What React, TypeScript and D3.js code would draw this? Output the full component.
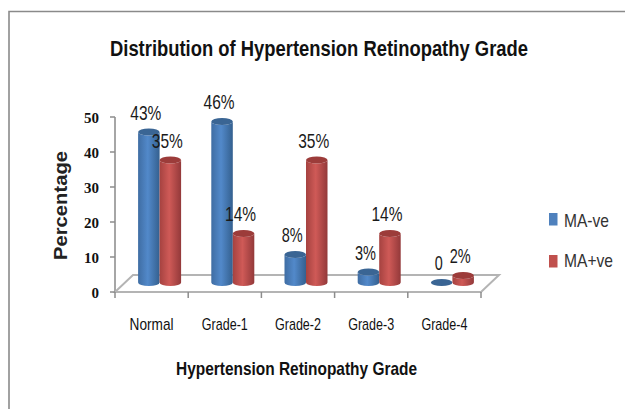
import React from "react";
import * as d3 from "d3";

const categories = ["Normal", "Grade-1", "Grade-2", "Grade-3", "Grade-4"];
const maNeg = [43, 46, 8, 3, 0];
const maPos = [35, 14, 35, 14, 2];
const negLabels = ["43%", "46%", "8%", "3%", "0"];
const posLabels = ["35%", "14%", "35%", "14%", "2%"];
const yTicks = [0, 10, 20, 30, 40, 50];

const FONT = "'Liberation Sans',Arial,sans-serif";

const labelWidth = (s: string) => (s.includes("%") ? 10 * (s.length - 1) + 11 : 8);

export default function App() {
  const x = d3.scaleBand<string>().domain(categories).range([115, 481]);
  const yFront = d3.scaleLinear().domain([0, 50]).range([292, 117]);
  const yBar = d3.scaleLinear().domain([0, 50]).range([282.5, 107.5]);
  const bw = 21.5;
  const rx = bw / 2;
  const ry = 3.6;
  const groupShift = 8;

  const cyl = (cx: number, v: number, fill: string, top: string) => {
    const yt = yBar(v);
    const yb = yBar(0);
    const d = `M${cx - rx},${yt}L${cx - rx},${yb}A${rx},${ry} 0 0 0 ${cx + rx},${yb}L${cx + rx},${yt}A${rx},${ry} 0 0 1 ${cx - rx},${yt}Z`;
    return (
      <g>
        <path d={d} fill={`url(#${fill})`} />
        <ellipse cx={cx} cy={yt} rx={rx} ry={ry} fill={top} />
      </g>
    );
  };

  const floorFront = yFront(0);
  const x0 = x.range()[0];
  const x1 = x.range()[1];
  const dx = 18;
  const dy = 17;

  return (
    <svg width={625} height={409} style={{ position: "absolute", left: 0, top: 0, background: "#fff" }} fontFamily={FONT}>
      <defs>
        <linearGradient id="blueG" x1="0" x2="1" y1="0" y2="0">
          <stop offset="0" stopColor="#3f6da3" />
          <stop offset="0.45" stopColor="#5289ca" />
          <stop offset="1" stopColor="#34608f" />
        </linearGradient>
        <linearGradient id="redG" x1="0" x2="1" y1="0" y2="0">
          <stop offset="0" stopColor="#a54240" />
          <stop offset="0.45" stopColor="#cf5a57" />
          <stop offset="1" stopColor="#93393a" />
        </linearGradient>
      </defs>

      <path d="M9,409V11.5H625" fill="none" stroke="#8a8a8a" strokeWidth={1.6} />

      <text x={110} y={56} fontSize={22.5} fontWeight="bold" fill="#111" textLength={418} lengthAdjust="spacingAndGlyphs">
        Distribution of Hypertension Retinopathy Grade
      </text>

      <path d={`M${x0},${yFront(50)}V${floorFront}`} stroke="#a6a6a6" strokeWidth={2} fill="none" />
      <path
        d={`M${x0},${floorFront}H${x1}L${x1 + dx},${floorFront - dy}H${x0 + dx}Z`}
        fill="#fff"
        stroke="#b4b4b4"
        strokeWidth={2}
      />
      {yTicks.map((t) => (
        <g key={t}>
          <line x1={x0 - 5} x2={x0} y1={yFront(t)} y2={yFront(t)} stroke="#8c8c8c" strokeWidth={1.5} />
          <text
            x={99}
            y={yFront(t) + 6}
            textAnchor="end"
            fontSize={15}
            fontWeight="bold"
            fontFamily="'Liberation Serif',serif"
            fill="#111"
            textLength={String(t).length * 7.5}
            lengthAdjust="spacingAndGlyphs"
          >
            {t}
          </text>
        </g>
      ))}
      {[...categories.map((c) => x(c) as number), x1].map((p) => (
        <line key={p} x1={p} x2={p} y1={floorFront} y2={floorFront + 6} stroke="#8c8c8c" strokeWidth={1.5} />
      ))}

      {categories.map((c, i) => {
        const cx = (x(c) as number) + x.bandwidth() / 2 + groupShift;
        return (
          <g key={c}>
            {cyl(cx - rx, maNeg[i], "blueG", "#3a6594")}
            {cyl(cx + rx, maPos[i], "redG", "#9c3c3a")}
          </g>
        );
      })}

      {categories.map((c) => {
        const cx = (x(c) as number) + x.bandwidth() / 2;
        return (
          <text key={c} x={cx} y={330} textAnchor="middle" fontSize={17} fill="#111" textLength={c === "Normal" ? 44 : 46} lengthAdjust="spacingAndGlyphs">
            {c}
          </text>
        );
      })}

      {categories.map((c, i) => {
        const cx = (x(c) as number) + x.bandwidth() / 2 + groupShift;
        return (
          <g key={c} fontSize={21} fill="#1a1a1a" textAnchor="middle">
            <text x={cx - rx - 3} y={yBar(maNeg[i]) - 12.5} textLength={labelWidth(negLabels[i])} lengthAdjust="spacingAndGlyphs">
              {negLabels[i]}
            </text>
            <text x={cx + rx - 3} y={yBar(maPos[i]) - 12.5} textLength={labelWidth(posLabels[i])} lengthAdjust="spacingAndGlyphs">
              {posLabels[i]}
            </text>
          </g>
        );
      })}

      <text transform="translate(67,260) rotate(-90)" fontSize={18.5} fontWeight="bold" fill="#222" textLength={109} lengthAdjust="spacingAndGlyphs">
        Percentage
      </text>
      <text x={176} y={375} fontSize={19} fontWeight="bold" fill="#111" textLength={241} lengthAdjust="spacingAndGlyphs">
        Hypertension Retinopathy Grade
      </text>

      <rect x={549} y={213} width={8.5} height={12.5} fill="#4f81bd" />
      <text x={564} y={227} fontSize={18.5} fill="#333" textLength={45} lengthAdjust="spacingAndGlyphs">MA-ve</text>
      <rect x={549} y={255} width={8.5} height={12.5} fill="#c0504d" />
      <text x={564} y={267} fontSize={18.5} fill="#333" textLength={49} lengthAdjust="spacingAndGlyphs">MA+ve</text>
    </svg>
  );
}
